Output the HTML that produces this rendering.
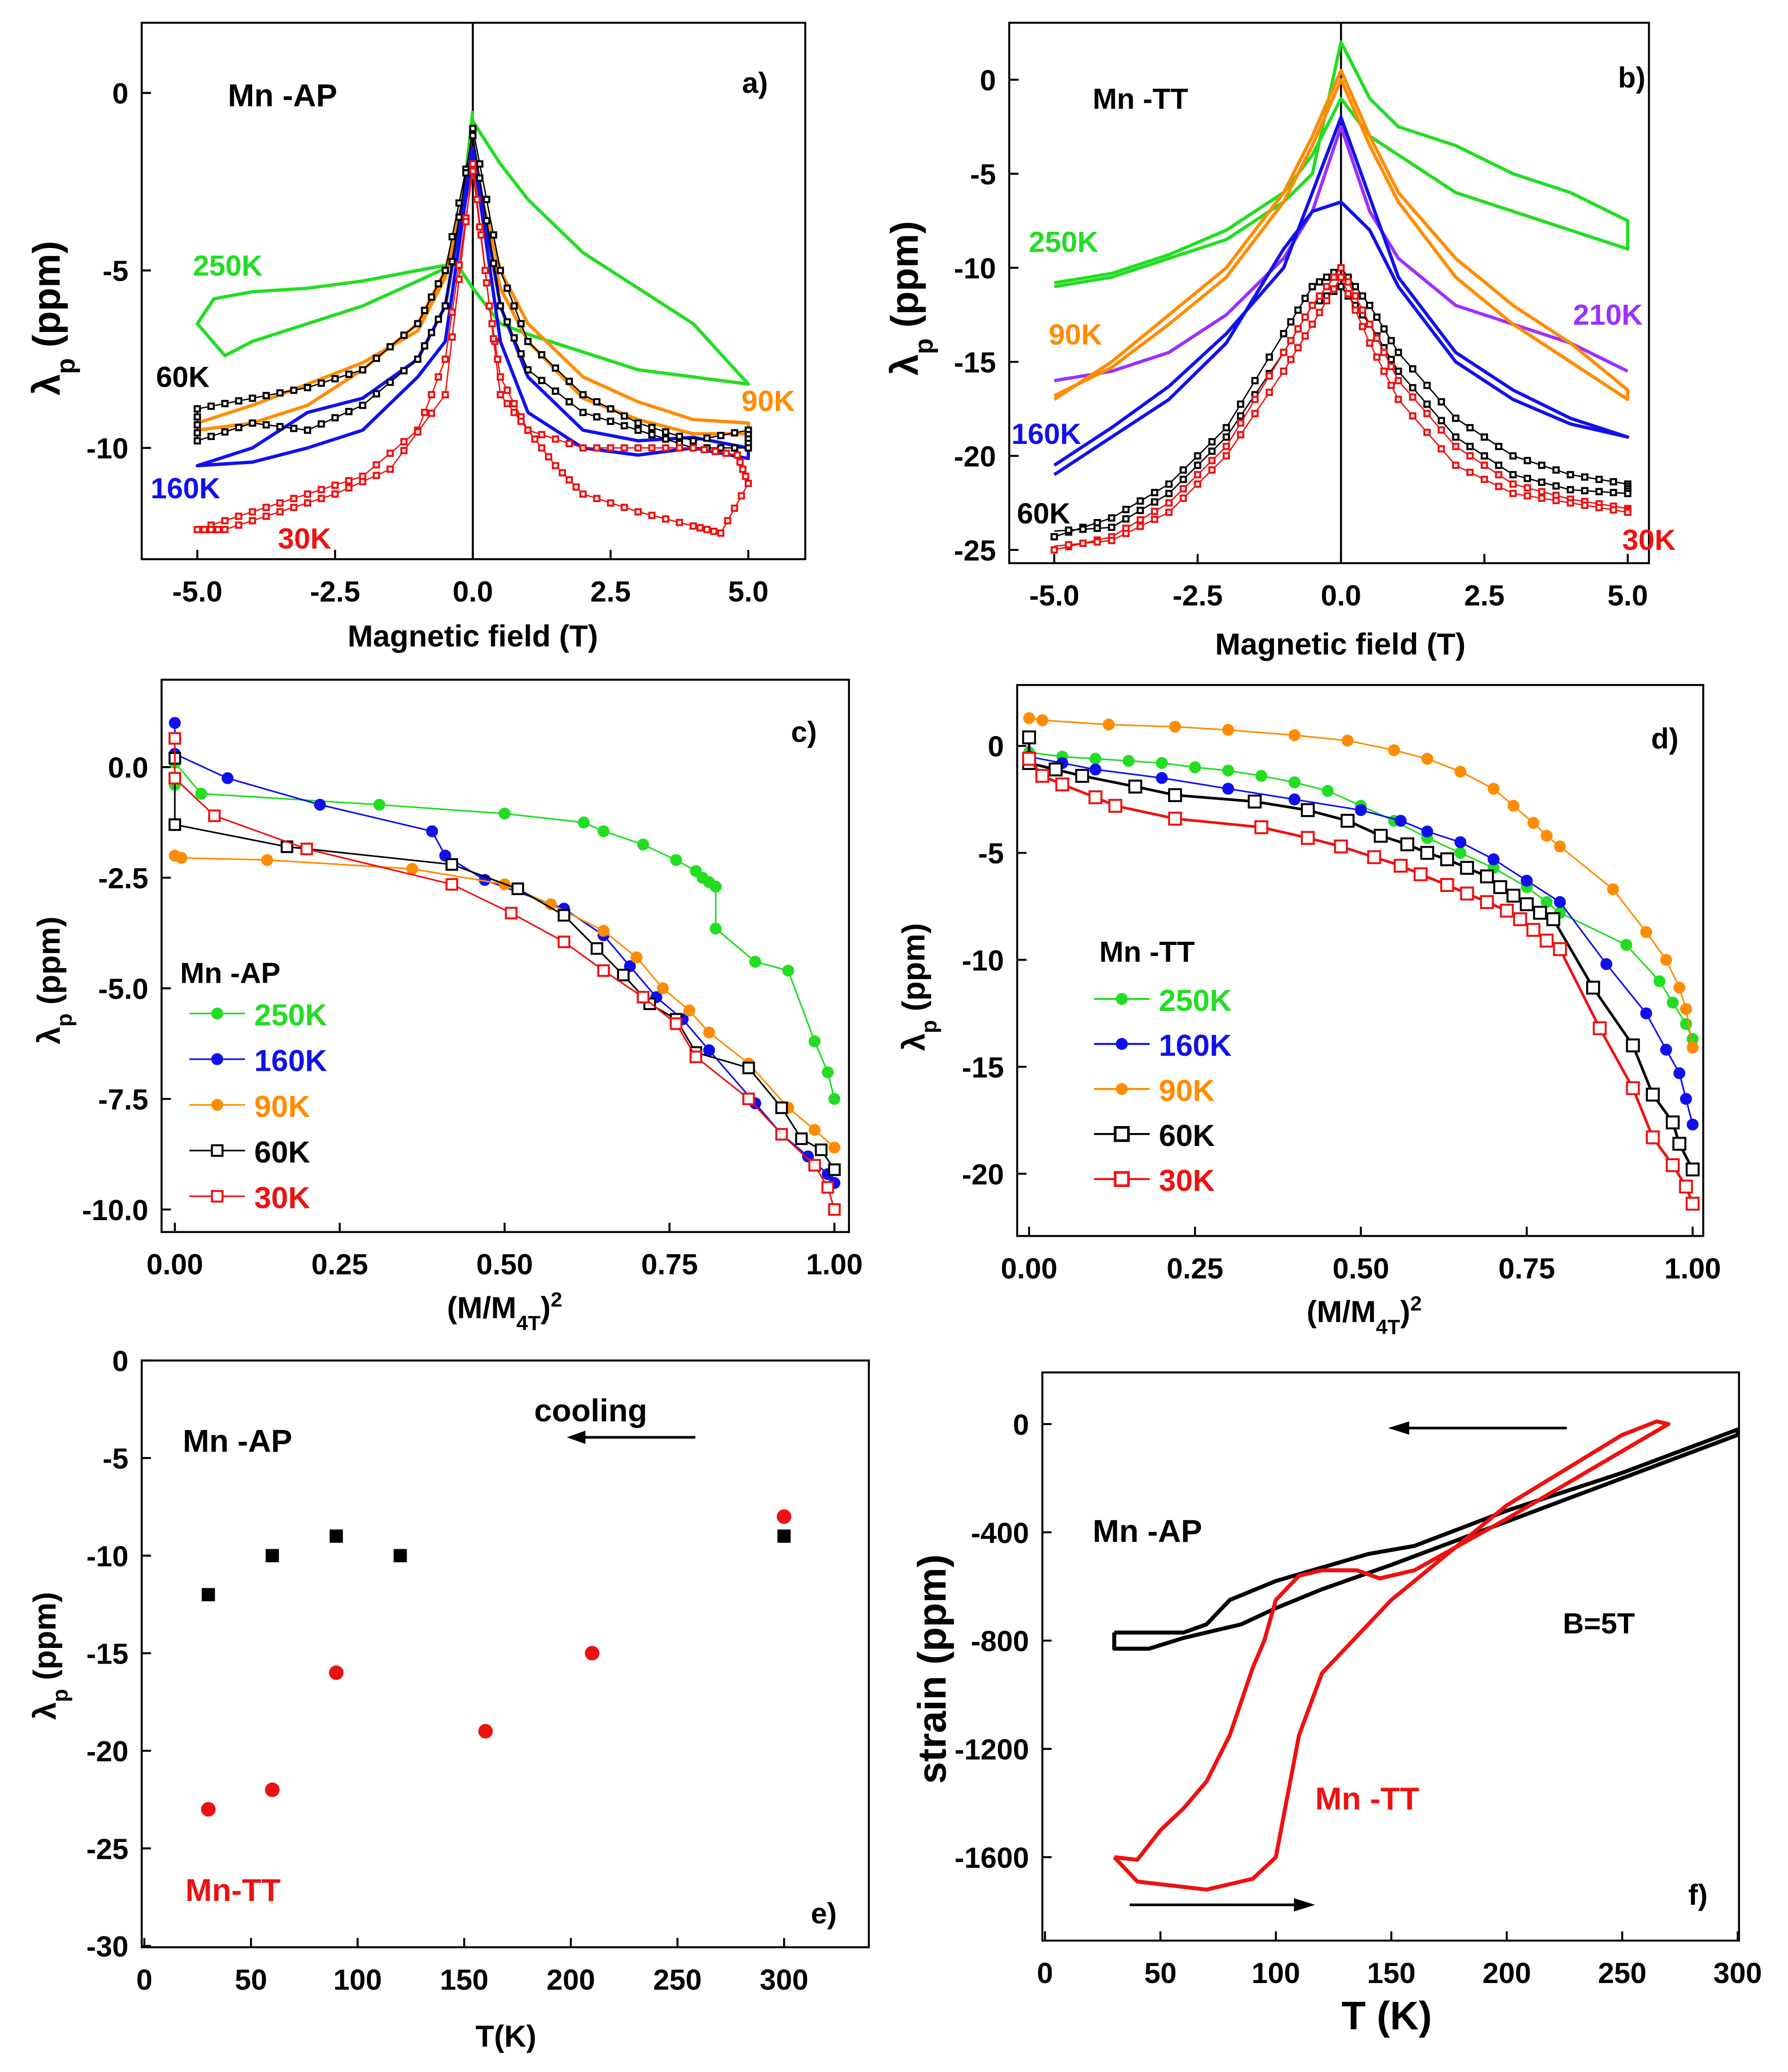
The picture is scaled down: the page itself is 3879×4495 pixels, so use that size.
<!DOCTYPE html>
<html><head><meta charset="utf-8"><style>
html,body{margin:0;padding:0;background:#fff;}
svg{display:block;}
text{font-family:"Liberation Sans",sans-serif;font-weight:bold;}
</style></head><body>
<svg id="fig" width="3879" height="4495" viewBox="0 0 1350 1564" xmlns="http://www.w3.org/2000/svg"></svg>
<script>
// ---------- DATA ----------
const a250=[[0,-0.8],[0.5,-2],[1,-3],[2,-4.5],[3,-5.5],[4,-6.5],[5,-8.2],[4,-8],[3,-7.8],[2,-7.3],[1,-6.8],[0.5,-6.5],[0,-5.5],[-0.3,-4.8],[-1,-5],[-2,-5.3],[-3,-5.5],[-4,-5.6],[-4.7,-5.8],[-5,-6.5],[-4.5,-7.4],[-4,-7],[-3,-6.5],[-2,-6],[-1,-5.3],[-0.3,-4.8],[0,-0.5]];
const a90=[[-5,-9.5],[-4,-9.3],[-3,-8.8],[-2,-7.8],[-1,-6.5],[-0.5,-5],[0,-2],[0.5,-5],[1,-6.5],[2,-8],[3,-8.7],[4,-9.2],[5,-9.3],[5,-9.6],[4,-9.6],[3,-9.2],[2,-8.6],[1,-7],[0.5,-5.5],[0,-2.2],[-0.5,-5.2],[-1,-6.7],[-2,-7.6],[-3,-8.2],[-4,-8.8],[-5,-9.3]];
const a60=[[0,-1],[0.5,-5],[1,-7],[2,-8.5],[3,-9.3],[4,-9.8],[5,-9.5],[5,-10],[4,-10],[3,-9.5],[2,-9],[1,-7.8],[0.5,-6],[0,-1.2],[-0.5,-5],[-1,-6.5],[-2,-7.8],[-3,-8.3],[-4,-8.6],[-5,-8.9],[-5,-9.8],[-4,-9.3],[-3,-9.5],[-2,-8.8],[-1,-7.5],[-0.5,-6],[0,-1]];
const a160=[[0,-1.5],[0.5,-6],[1,-8],[2,-9.5],[3,-9.8],[4,-9.7],[5,-10],[5,-10.3],[4,-10],[3,-10.2],[2,-10],[1,-9],[0.5,-7],[0,-1.6],[-0.5,-7],[-1,-8],[-2,-9.5],[-3,-10],[-4,-10.4],[-5,-10.5],[-4,-10],[-3,-9],[-2,-8.6],[-1,-7.5],[-0.5,-6],[0,-1.5]];
const a30=[[0,-2],[0.3,-6],[0.5,-8],[1,-9.5],[1.5,-10.5],[2,-11.3],[3,-11.8],[4,-12.2],[4.5,-12.4],[5,-11],[4.8,-10.2],[4,-10],[3,-10],[2,-10],[1,-9.5],[0.5,-8.5],[0,-2.2],[-0.5,-7.5],[-1,-9.5],[-2,-10.8],[-3,-11.3],[-4,-11.8],[-5,-12.3],[-4.5,-12.3],[-3.5,-11.8],[-2.5,-11.3],[-1.5,-10.6],[-0.5,-8.5],[0,-2]];
const b250=[[-5,-11],[-4,-10.5],[-3,-9.5],[-2,-8.5],[-1,-6.5],[-0.5,-5],[0,2],[0.5,-1],[1,-2.5],[2,-3.5],[3,-5],[4,-6],[5,-7.5],[5,-9],[4,-8],[3,-7],[2,-6],[1,-4],[0.5,-3],[0,-1],[-0.5,-4],[-1,-6],[-2,-8],[-3,-9.3],[-4,-10.3],[-5,-10.8]];
const b210=[[-5,-16],[-4,-15.5],[-3,-14.5],[-2,-12.5],[-1,-9.5],[-0.5,-7],[0,-2.5],[0.5,-7],[1,-9.5],[2,-12],[3,-13],[4,-14],[5,-15.5]];
const b90=[[-5,-17],[-4,-15],[-3,-12.5],[-2,-10],[-1,-6],[-0.5,-3],[0,0.5],[0.5,-3],[1,-6],[2,-9.5],[3,-12],[4,-14],[5,-16.5],[5,-17],[4,-15],[3,-13],[2,-10.5],[1,-6.5],[0.5,-3.5],[0,0],[-0.5,-3.5],[-1,-6.5],[-2,-10.5],[-3,-13],[-4,-15.3],[-5,-16.8]];
const b160=[[-5,-21],[-4,-19],[-3,-17],[-2,-14],[-1,-9],[-0.5,-7],[0,-6.5],[0.5,-8],[1,-11],[2,-15],[3,-17],[4,-18.3],[5,-19],[4,-18],[3,-16.5],[2,-14.5],[1,-10.5],[0,-2],[-1,-10],[-2,-13.5],[-3,-16.3],[-4,-18.5],[-5,-20.5]];
const b60=[[-5,-24.3],[-4,-23.3],[-3,-21.5],[-2,-18.5],[-1,-13.5],[-0.5,-11],[0,-10],[0.5,-12],[1,-14.5],[2,-18],[3,-20],[4,-21],[5,-21.5],[5,-22],[4,-21.8],[3,-21],[2,-19],[1,-15.5],[0.5,-13],[0,-11],[-0.5,-12],[-1,-14.5],[-2,-19],[-3,-22],[-4,-23.8],[-5,-24]];
const b30=[[-5,-25],[-4,-24.3],[-3,-22.5],[-2,-19.5],[-1,-14.5],[-0.5,-12],[0,-10],[0.5,-13],[1,-16],[2,-19.5],[3,-21.5],[4,-22.3],[5,-22.8],[5,-23],[4,-22.5],[3,-22],[2,-20.5],[1,-17],[0.5,-14],[0,-10.5],[-0.5,-13],[-1,-15.5],[-2,-20],[-3,-23],[-4,-24.5],[-5,-24.8]];
const c250=[[0,-0.4],[0,0.1],[0.04,-0.6],[0.31,-0.85],[0.5,-1.05],[0.62,-1.25],[0.65,-1.45],[0.71,-1.75],[0.76,-2.1],[0.79,-2.35],[0.8,-2.5],[0.81,-2.6],[0.82,-2.7],[0.82,-3.65],[0.88,-4.4],[0.93,-4.6],[0.97,-6.2],[0.99,-6.9],[1.0,-7.5]];
const c160=[[0,1.0],[0,0.3],[0.08,-0.25],[0.22,-0.85],[0.39,-1.45],[0.41,-2],[0.47,-2.55],[0.59,-3.2],[0.65,-3.8],[0.69,-4.5],[0.73,-5.2],[0.77,-5.7],[0.81,-6.4],[0.88,-7.6],[0.92,-8.3],[0.96,-8.8],[0.99,-9.2],[1.0,-9.4]];
const c90=[[0,-2.0],[0.01,-2.05],[0.14,-2.1],[0.36,-2.3],[0.5,-2.65],[0.57,-3.1],[0.65,-3.7],[0.7,-4.3],[0.74,-5.0],[0.78,-5.5],[0.81,-6.0],[0.87,-6.7],[0.93,-7.7],[0.97,-8.2],[1.0,-8.6]];
const c60=[[0,0.2],[0,-1.3],[0.17,-1.8],[0.42,-2.2],[0.52,-2.75],[0.59,-3.35],[0.64,-4.1],[0.68,-4.7],[0.72,-5.35],[0.76,-5.7],[0.79,-6.45],[0.87,-6.8],[0.92,-7.7],[0.95,-8.4],[0.98,-8.65],[1.0,-9.1]];
const c30=[[0,0.65],[0,-0.25],[0.06,-1.1],[0.2,-1.85],[0.42,-2.65],[0.51,-3.3],[0.59,-3.95],[0.65,-4.6],[0.71,-5.2],[0.76,-5.8],[0.79,-6.55],[0.87,-7.5],[0.92,-8.3],[0.97,-9.0],[0.99,-9.5],[1.0,-10.0]];
const d250=[[0,-0.3],[0.05,-0.5],[0.1,-0.6],[0.15,-0.7],[0.2,-0.8],[0.25,-1.0],[0.3,-1.15],[0.35,-1.4],[0.4,-1.7],[0.45,-2.1],[0.5,-2.8],[0.55,-3.5],[0.6,-4.3],[0.65,-5.0],[0.7,-5.7],[0.75,-6.6],[0.78,-7.3],[0.8,-7.8],[0.9,-9.3],[0.95,-11],[0.97,-12],[0.99,-13],[1,-13.7]];
const d160=[[0,-0.5],[0.05,-0.8],[0.1,-1.1],[0.2,-1.5],[0.3,-2.0],[0.4,-2.5],[0.5,-3.0],[0.56,-3.5],[0.6,-4.0],[0.65,-4.5],[0.7,-5.3],[0.75,-6.3],[0.8,-7.3],[0.87,-10.2],[0.93,-12.5],[0.96,-14.2],[0.98,-15.3],[0.99,-16.5],[1,-17.7]];
const d90=[[0,1.3],[0.02,1.2],[0.12,1.0],[0.22,0.9],[0.3,0.75],[0.4,0.5],[0.48,0.25],[0.55,-0.2],[0.6,-0.6],[0.65,-1.2],[0.7,-2.0],[0.73,-2.8],[0.76,-3.6],[0.78,-4.2],[0.8,-4.7],[0.88,-6.7],[0.93,-8.7],[0.96,-10.0],[0.98,-11.3],[0.99,-12.3],[1,-14.1]];
const d60=[[0,0.4],[0,-0.8],[0.04,-1.1],[0.08,-1.4],[0.16,-1.9],[0.22,-2.3],[0.34,-2.6],[0.42,-3.0],[0.48,-3.5],[0.53,-4.2],[0.57,-4.6],[0.6,-5.0],[0.63,-5.3],[0.66,-5.7],[0.69,-6.1],[0.71,-6.6],[0.73,-7.0],[0.75,-7.4],[0.77,-7.8],[0.79,-8.1],[0.85,-11.3],[0.91,-14.0],[0.94,-16.3],[0.97,-17.6],[0.98,-18.6],[1,-19.8]];
const d30=[[0,-0.6],[0.02,-1.4],[0.05,-1.8],[0.1,-2.4],[0.13,-2.8],[0.22,-3.4],[0.35,-3.8],[0.42,-4.3],[0.47,-4.7],[0.52,-5.2],[0.56,-5.6],[0.59,-6.0],[0.63,-6.5],[0.66,-6.9],[0.69,-7.3],[0.72,-7.7],[0.74,-8.1],[0.76,-8.6],[0.78,-9.1],[0.8,-9.5],[0.86,-13.2],[0.91,-16.0],[0.94,-18.3],[0.97,-19.6],[0.99,-20.6],[1,-21.4]];
const eApT=[30,60,90,120,300];
const eApL=[-12,-10,-9,-10,-9];
const eTtT=[30,60,90,160,210,300];
const eTtL=[-23,-22,-16,-19,-15,-8];
const fAP=[[30,-770],[60,-770],[70,-740],[80,-650],[100,-580],[120,-530],[140,-480],[160,-450],[200,-320],[250,-180],[300,-20],[300,-40],[250,-200],[200,-360],[150,-520],[120,-610],[100,-680],[85,-740],[75,-760],[60,-790],[45,-830],[30,-830],[30,-770]];
const fTT=[[30,-1600],[40,-1610],[50,-1500],[60,-1420],[70,-1320],[80,-1150],[90,-900],[95,-800],[100,-650],[110,-560],[120,-540],[135,-540],[145,-570],[160,-540],[200,-350],[250,-100],[270,0],[265,10],[250,-40],[200,-300],[150,-650],[120,-920],[110,-1150],[100,-1600],[90,-1680],[70,-1720],[40,-1690],[30,-1600]];

// ---------- DRAW ----------
const NS="http://www.w3.org/2000/svg";
const svg=document.getElementById('fig');
function mk(tag,attrs,parent){const e=document.createElementNS(NS,tag);for(const k in attrs)e.setAttribute(k,attrs[k]);(parent||svg).appendChild(e);return e;}
function txt(x,y,s,size,fill,anchor,name,rot){const t=mk('text',{x:x,y:y,'font-size':size,fill:fill||'#000','text-anchor':anchor||'middle'});t.textContent=s;if(rot)t.setAttribute('transform','rotate(-90 '+x+' '+y+')');


return t;}
// text with subscript segments: parts = [[string, isSub, isSup]]
function rich(x,y,parts,size,name,rot){const t=mk('text',{x:x,y:y,'font-size':size,fill:'#000','text-anchor':'middle'});
parts.forEach(p=>{const s=mk('tspan',{},t);s.textContent=p[0];if(p[1]){s.setAttribute('font-size',size*0.68);s.setAttribute('baseline-shift','sub');}if(p[2]){s.setAttribute('font-size',size*0.68);s.setAttribute('baseline-shift','super');}});
if(rot)t.setAttribute('transform','rotate(-90 '+x+' '+y+')');


return t;}
function axes(P,name){const g=mk('g',{});


mk('rect',{x:P.x0,y:P.y0,width:P.x1-P.x0,height:P.y1-P.y0,fill:'none',stroke:'#000','stroke-width':1.5},g);
P.xt.forEach(v=>{const x=P.sx(v);mk('line',{x1:x,y1:P.y1,x2:x,y2:P.y1-7,stroke:'#000','stroke-width':1.5},g);
txt(x,P.y1+32,P.xf?P.xf(v):v,22,'#000','middle',name+'-xtick');});
P.yt.forEach(v=>{const y=P.sy(v);mk('line',{x1:P.x0,y1:y,x2:P.x0+7,y2:y,stroke:'#000','stroke-width':1.5},g);
txt(P.x0-10,y+8,P.yf?P.yf(v):v,22,'#000','end',name+'-ytick');});
return g;}
function lin(a0,a1,p0,p1){return v=>p0+(v-a0)*(p1-p0)/(a1-a0);}
function line(P,pts,color,name,w){const d=pts.map((p,i)=>(i?'L':'M')+P.sx(p[0]).toFixed(1)+' '+P.sy(p[1]).toFixed(1)).join(' ');
const e=mk('path',{d:d,fill:'none',stroke:color,'stroke-width':w||2.5,'stroke-linejoin':'round'});


return e;}
function marks(P,pts,color,shape,name,sz){const g=mk('g',{});


pts.forEach(p=>{const x=P.sx(p[0]),y=P.sy(p[1]);
if(shape==='c')mk('circle',{cx:x,cy:y,r:sz,fill:color},g);
else if(shape==='fs')mk('rect',{x:x-sz,y:y-sz,width:2*sz,height:2*sz,fill:color},g);
else mk('rect',{x:x-sz,y:y-sz,width:2*sz,height:2*sz,fill:'#fff',stroke:color,'stroke-width':1.5},g);});return g;}
function dense(pts,n){const out=[];for(let i=0;i<pts.length-1;i++){for(let k=0;k<n;k++){const t=k/n;out.push([pts[i][0]+(pts[i+1][0]-pts[i][0])*t,pts[i][1]+(pts[i+1][1]-pts[i][1])*t]);}}return out;}
const GREEN='#22dd22',ORANGE='#ff8c00',BLUE='#1010ee',RED='#ee1111',PURPLE='#9b30ff';
const LAMBDA=[['λ',0],['p',1],[' (ppm)',0]];
const MM=[['(M/M',0],['4T',1],[')',0],['2',0,1]];

// Panel a
const A={x0:107,x1:608,y0:17,y1:422,sx:lin(-5,5,149,565),sy:lin(0,-10,70,338),xt:[-5,-2.5,0,2.5,5],xf:v=>v.toFixed(1),yt:[0,-5,-10]};
axes(A,'panel-a-axes');
mk('line',{x1:A.sx(0),y1:A.y0,x2:A.sx(0),y2:A.y1,stroke:'#000','stroke-width':1.5});
line(A,a250,GREEN,'a-250k-curve');line(A,a90,ORANGE,'a-90k-curve');line(A,a160,BLUE,'a-160k-curve');
line(A,a60,'#000','a-60k-curve',1);marks(A,dense(a60,4),'#000','os','a-60k-markers',2);
line(A,a30,RED,'a-30k-curve',1);marks(A,dense(a30,4),RED,'os','a-30k-markers',2);
txt(172,80,'Mn -AP',24,'#000','start','a-sample-label');txt(570,70,'a)',22,'#000','middle','a-panel-label');
txt(172,208,'250K',22,GREEN,'middle','a-label-250k');txt(138,292,'60K',22,'#000','middle','a-label-60k');
txt(580,310,'90K',22,ORANGE,'middle','a-label-90k');txt(140,376,'160K',22,BLUE,'middle','a-label-160k');
txt(230,414,'30K',22,RED,'middle','a-label-30k');
txt(357,488,'Magnetic field (T)',23,'#000','middle','a-x-axis-title');
rich(45,240,LAMBDA,29,'a-y-axis-title',true);

// Panel b
const B={x0:762,x1:1245,y0:17,y1:425,sx:lin(-5,5,796,1229),sy:lin(0,-25,60,415),xt:[-5,-2.5,0,2.5,5],xf:v=>v.toFixed(1),yt:[0,-5,-10,-15,-20,-25]};
axes(B,'panel-b-axes');
mk('line',{x1:B.sx(0),y1:B.y0,x2:B.sx(0),y2:B.y1,stroke:'#000','stroke-width':1.5});
line(B,b250,GREEN,'b-250k-curve');line(B,b210,PURPLE,'b-210k-curve');line(B,b90,ORANGE,'b-90k-curve');line(B,b160,BLUE,'b-160k-curve');
line(B,b60,'#000','b-60k-curve',1);marks(B,dense(b60,4),'#000','os','b-60k-markers',2);
line(B,b30,RED,'b-30k-curve',1);marks(B,dense(b30,4),RED,'os','b-30k-markers',2);
txt(825,82,'Mn -TT',22,'#000','start','b-sample-label');txt(1232,66,'b)',22,'#000','middle','b-panel-label');
txt(803,190,'250K',22,GREEN,'middle','b-label-250k');txt(812,260,'90K',22,ORANGE,'middle','b-label-90k');
txt(1214,245,'210K',22,PURPLE,'middle','b-label-210k');txt(790,335,'160K',22,BLUE,'middle','b-label-160k');
txt(788,395,'60K',22,'#000','middle','b-label-60k');txt(1245,415,'30K',22,RED,'middle','b-label-30k');
txt(1012,494,'Magnetic field (T)',23,'#000','middle','b-x-axis-title');
rich(693,225,LAMBDA,29,'b-y-axis-title',true);

// Panel c
const C={x0:122,x1:641,y0:513,y1:930,sx:lin(0,1,132,630),sy:lin(0,-10,579,913),xt:[0,0.25,0.5,0.75,1],xf:v=>v.toFixed(2),yt:[0,-2.5,-5,-7.5,-10],yf:v=>v.toFixed(1)};
axes(C,'panel-c-axes');
[[c250,GREEN,'c','250k'],[c160,BLUE,'c','160k'],[c90,ORANGE,'c','90k'],[c60,'#000','os','60k'],[c30,RED,'os','30k']].forEach(s=>{line(C,s[0],s[1],'c-'+s[3]+'-line',1.2);marks(C,s[0],s[1],s[2],'c-'+s[3]+'-markers',s[2]==='c'?4.5:4);});
txt(607,560,'c)',22,'#000','middle','c-panel-label');txt(136,742,'Mn -AP',22,'#000','start','c-legend-title');
[['250K',GREEN,'c'],['160K',BLUE,'c'],['90K',ORANGE,'c'],['60K','#000','os'],['30K',RED,'os']].forEach((l,i)=>{const y=765+i*34.5;
mk('line',{x1:143,y1:y,x2:185,y2:y,stroke:l[1],'stroke-width':1.2});
if(l[2]==='c')mk('circle',{cx:164,cy:y,r:4.5,fill:l[1]});else mk('rect',{x:160,y:y-4,width:8,height:8,fill:'#fff',stroke:l[1],'stroke-width':1.5});
txt(192,y+9,l[0],23,l[1],'start','c-legend-'+l[0]);});
rich(381,995,MM,23,'c-x-axis-title');
rich(45,740,LAMBDA,24,'c-y-axis-title',true);

// Panel d
const D={x0:768,x1:1286,y0:517,y1:933,sx:lin(0,1,777,1278),sy:lin(0,-20,563,886),xt:[0,0.25,0.5,0.75,1],xf:v=>v.toFixed(2),yt:[0,-5,-10,-15,-20]};
axes(D,'panel-d-axes');
[[d250,GREEN,'c','250k'],[d160,BLUE,'c','160k'],[d90,ORANGE,'c','90k'],[d60,'#000','os','60k'],[d30,RED,'os','30k']].forEach(s=>{line(D,s[0],s[1],'d-'+s[3]+'-line',s[2]==='c'?1.2:2);marks(D,s[0],s[1],s[2],'d-'+s[3]+'-markers',4.5);});
txt(1257,565,'d)',22,'#000','middle','d-panel-label');txt(830,726,'Mn -TT',22,'#000','start','d-legend-title');
[['250K',GREEN,'c'],['160K',BLUE,'c'],['90K',ORANGE,'c'],['60K','#000','os'],['30K',RED,'os']].forEach((l,i)=>{const y=754+i*34;
mk('line',{x1:826,y1:y,x2:868,y2:y,stroke:l[1],'stroke-width':1.5});
if(l[2]==='c')mk('circle',{cx:847,cy:y,r:4.5,fill:l[1]});else mk('rect',{x:842,y:y-5,width:10,height:10,fill:'#fff',stroke:l[1],'stroke-width':2});
txt(875,y+9,l[0],23,l[1],'start','d-legend-'+l[0]);});
rich(1030,998,MM,23,'d-x-axis-title');
rich(698,745,LAMBDA,24,'d-y-axis-title',true);

// Panel e
const E={x0:107,x1:656,y0:1027,y1:1470,sx:lin(0,300,109,592),sy:lin(0,-30,1027,1469),xt:[0,50,100,150,200,250,300],yt:[0,-5,-10,-15,-20,-25,-30]};
axes(E,'panel-e-axes');
marks(E,eApT.map((t,i)=>[t,eApL[i]]),'#000','fs','e-mn-ap-points',5);
marks(E,eTtT.map((t,i)=>[t,eTtL[i]]),RED,'c','e-mn-tt-points',5.5);
txt(138,1096,'Mn -AP',24,'#000','start','e-ap-label');txt(140,1435,'Mn-TT',24,RED,'start','e-tt-label');
txt(446,1073,'cooling',24,'#000','middle','e-cooling-label');
mk('line',{x1:525,y1:1085,x2:438,y2:1085,stroke:'#000','stroke-width':2});mk('path',{d:'M428 1085 L442 1080 L442 1090 Z',fill:'#000'});
txt(622,1452,'e)',22,'#000','middle','e-panel-label');
txt(382,1545,'T(K)',23,'#000','middle','e-x-axis-title');
rich(42,1250,LAMBDA,24,'e-y-axis-title',true);

// Panel f
const F={x0:787,x1:1313,y0:1036,y1:1465,sx:lin(0,300,789,1312),sy:lin(0,-1600,1075,1402),xt:[0,50,100,150,200,250,300],yt:[0,-400,-800,-1200,-1600]};
axes(F,'panel-f-axes');
line(F,fAP,'#000','f-mn-ap-curve',3);line(F,fTT,RED,'f-mn-tt-curve',3);
txt(825,1164,'Mn -AP',24,'#000','start','f-ap-label');txt(993,1366,'Mn -TT',24,RED,'start','f-tt-label');
txt(1180,1233,'B=5T',22,'#000','start','f-field-label');txt(1282,1438,'f)',22,'#000','middle','f-panel-label');
mk('line',{x1:1183,y1:1078,x2:1060,y2:1078,stroke:'#000','stroke-width':2});mk('path',{d:'M1048 1078 L1064 1073 L1064 1083 Z',fill:'#000'});
mk('line',{x1:853,y1:1438,x2:980,y2:1438,stroke:'#000','stroke-width':2});mk('path',{d:'M993 1438 L977 1433 L977 1443 Z',fill:'#000'});
txt(1047,1532,'T (K)',30,'#000','middle','f-x-axis-title');
txt(714,1260,'strain (ppm)',30,'#000','middle','f-y-axis-title',true);
</script>
</body></html>
